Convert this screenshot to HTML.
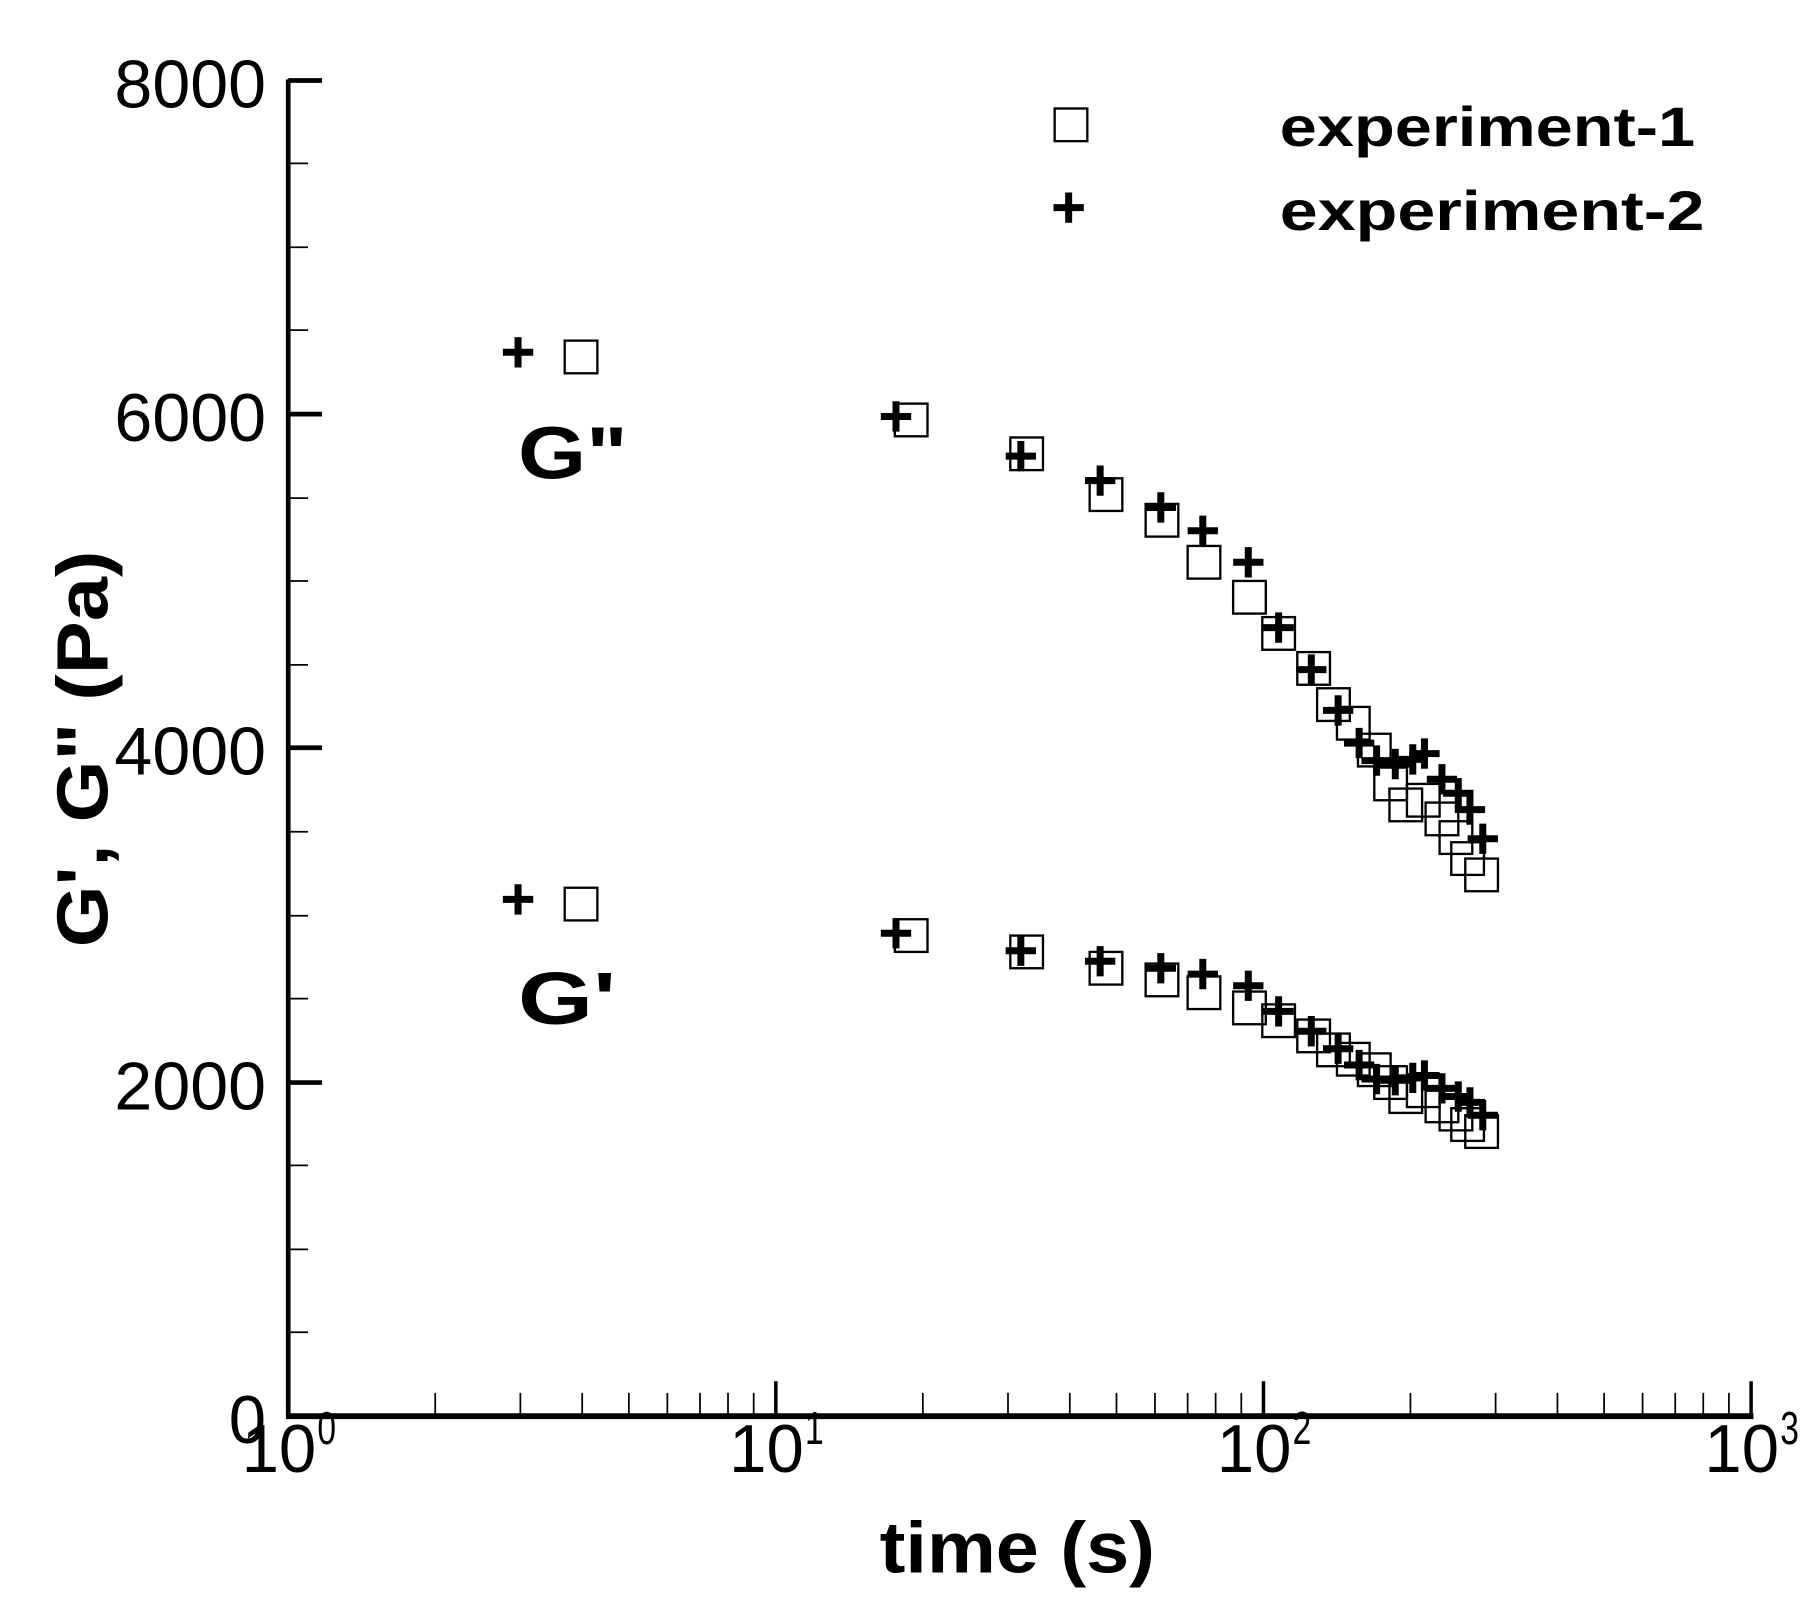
<!DOCTYPE html>
<html><head><style>html,body{margin:0;padding:0;background:#fff}svg{display:block}</style></head>
<body>
<svg width="1820" height="1604" viewBox="0 0 1560 1375" xmlns="http://www.w3.org/2000/svg" font-family="Liberation Sans, Arial, sans-serif">
<g stroke="#000" fill="none">
<line x1="247" y1="68" x2="247" y2="1214" stroke-width="4"/>
<line x1="245" y1="1214" x2="1503" y2="1214" stroke-width="5"/>
<g stroke-width="4">
<line x1="247" y1="69" x2="276" y2="69"/><line x1="247" y1="355" x2="276" y2="355"/>
<line x1="247" y1="641" x2="276" y2="641"/><line x1="247" y1="928" x2="276" y2="928"/>
</g>
<g stroke-width="1.5">
<line x1="247" y1="140" x2="264" y2="140"/><line x1="247" y1="212" x2="264" y2="212"/><line x1="247" y1="283" x2="264" y2="283"/>
<line x1="247" y1="427" x2="264" y2="427"/><line x1="247" y1="498" x2="264" y2="498"/><line x1="247" y1="570" x2="264" y2="570"/>
<line x1="247" y1="713" x2="264" y2="713"/><line x1="247" y1="785" x2="264" y2="785"/><line x1="247" y1="856" x2="264" y2="856"/>
<line x1="247" y1="999" x2="264" y2="999"/><line x1="247" y1="1071" x2="264" y2="1071"/><line x1="247" y1="1142" x2="264" y2="1142"/>
</g>
<g stroke-width="3">
<line x1="665" y1="1214" x2="665" y2="1184"/><line x1="1083" y1="1214" x2="1083" y2="1184"/><line x1="1501" y1="1214" x2="1501" y2="1184"/>
</g>
<g stroke-width="1.5" id="minor">
<line x1="373" y1="1214" x2="373" y2="1194"/><line x1="446" y1="1214" x2="446" y2="1194"/><line x1="499" y1="1214" x2="499" y2="1194"/><line x1="539" y1="1214" x2="539" y2="1194"/><line x1="572" y1="1214" x2="572" y2="1194"/><line x1="600" y1="1214" x2="600" y2="1194"/><line x1="624" y1="1214" x2="624" y2="1194"/><line x1="646" y1="1214" x2="646" y2="1194"/>
</g>
<use href="#minor" x="418"/><use href="#minor" x="836"/>
</g>
<g font-size="58" fill="#000">
<text x="228" y="92" text-anchor="end" textLength="130" lengthAdjust="spacingAndGlyphs">8000</text>
<text x="228" y="378" text-anchor="end" textLength="130" lengthAdjust="spacingAndGlyphs">6000</text>
<text x="228" y="664" text-anchor="end" textLength="130" lengthAdjust="spacingAndGlyphs">4000</text>
<text x="228" y="951" text-anchor="end" textLength="130" lengthAdjust="spacingAndGlyphs">2000</text>
<text x="228" y="1237" text-anchor="end" textLength="32" lengthAdjust="spacingAndGlyphs">0</text>
<g font-size="58">
<text x="207" y="1262" textLength="64" lengthAdjust="spacingAndGlyphs">10</text><text x="272" y="1238" font-size="40" textLength="16" lengthAdjust="spacingAndGlyphs">0</text>
<text x="625" y="1262" textLength="64" lengthAdjust="spacingAndGlyphs">10</text><text x="690" y="1238" font-size="40" textLength="16" lengthAdjust="spacingAndGlyphs">1</text>
<text x="1043" y="1262" textLength="64" lengthAdjust="spacingAndGlyphs">10</text><text x="1108" y="1238" font-size="40" textLength="16" lengthAdjust="spacingAndGlyphs">2</text>
<text x="1461" y="1262" textLength="64" lengthAdjust="spacingAndGlyphs">10</text><text x="1526" y="1238" font-size="40" textLength="16" lengthAdjust="spacingAndGlyphs">3</text>
</g>
<text x="872" y="1348" text-anchor="middle" font-weight="bold" font-size="62" textLength="236" lengthAdjust="spacingAndGlyphs">time (s)</text>
<text transform="translate(92,642) rotate(-90)" text-anchor="middle" font-weight="bold" font-size="62" textLength="340" lengthAdjust="spacingAndGlyphs">G', G" (Pa)</text>
<text x="444" y="410" font-weight="bold" font-size="64" textLength="94" lengthAdjust="spacingAndGlyphs">G"</text>
<text x="444" y="878" font-weight="bold" font-size="64" textLength="84" lengthAdjust="spacingAndGlyphs">G'</text>
<text x="1097" y="125" font-weight="bold" font-size="48" textLength="356" lengthAdjust="spacingAndGlyphs">experiment-1</text>
<text x="1097" y="197" font-weight="bold" font-size="48" textLength="364" lengthAdjust="spacingAndGlyphs">experiment-2</text>
</g>
<defs>
<rect id="sq" x="-14" y="-14" width="28" height="28" fill="none" stroke="#000" stroke-width="2"/>
<path id="pl" d="M-13 0H13M0 -13V13" stroke="#000" stroke-width="6" fill="none"/>
</defs>
<g>
<use href="#sq" x="918" y="107"/><use href="#pl" x="916" y="178"/>
<use href="#sq" x="498" y="306"/><use href="#sq" x="781" y="360"/><use href="#sq" x="880" y="389"/><use href="#sq" x="948" y="424"/><use href="#sq" x="996" y="446"/><use href="#sq" x="1032" y="482"/><use href="#sq" x="1071" y="512"/><use href="#sq" x="1096" y="543"/><use href="#sq" x="1126" y="573"/><use href="#sq" x="1143" y="604"/><use href="#sq" x="1160" y="620"/><use href="#sq" x="1178" y="643"/><use href="#sq" x="1192" y="672"/><use href="#sq" x="1205" y="690"/><use href="#sq" x="1220" y="686"/><use href="#sq" x="1236" y="702"/><use href="#sq" x="1248" y="718"/><use href="#sq" x="1258" y="736"/><use href="#sq" x="1270" y="750"/>
<use href="#sq" x="498" y="775"/><use href="#sq" x="781" y="802"/><use href="#sq" x="880" y="816"/><use href="#sq" x="948" y="830"/><use href="#sq" x="996" y="840"/><use href="#sq" x="1032" y="851"/><use href="#sq" x="1071" y="864"/><use href="#sq" x="1096" y="875"/><use href="#sq" x="1126" y="888"/><use href="#sq" x="1143" y="900"/><use href="#sq" x="1160" y="908"/><use href="#sq" x="1178" y="917"/><use href="#sq" x="1192" y="928"/><use href="#sq" x="1205" y="940"/><use href="#sq" x="1220" y="935"/><use href="#sq" x="1236" y="948"/><use href="#sq" x="1248" y="955"/><use href="#sq" x="1258" y="964"/><use href="#sq" x="1270" y="970"/>
<use href="#pl" x="444" y="302"/><use href="#pl" x="768" y="357"/><use href="#pl" x="875" y="391"/><use href="#pl" x="943" y="412"/><use href="#pl" x="995" y="435"/><use href="#pl" x="1031" y="455"/><use href="#pl" x="1070" y="482"/><use href="#pl" x="1096" y="538"/><use href="#pl" x="1124" y="574"/><use href="#pl" x="1147" y="609"/><use href="#pl" x="1165" y="637"/><use href="#pl" x="1180" y="652"/><use href="#pl" x="1196" y="655"/><use href="#pl" x="1211" y="651"/><use href="#pl" x="1221" y="646"/><use href="#pl" x="1236" y="668"/><use href="#pl" x="1250" y="680"/><use href="#pl" x="1260" y="694"/><use href="#pl" x="1271" y="719"/>
<use href="#pl" x="444" y="771"/><use href="#pl" x="768" y="800"/><use href="#pl" x="875" y="815"/><use href="#pl" x="943" y="824"/><use href="#pl" x="995" y="830"/><use href="#pl" x="1031" y="835"/><use href="#pl" x="1070" y="845"/><use href="#pl" x="1096" y="867"/><use href="#pl" x="1124" y="884"/><use href="#pl" x="1147" y="899"/><use href="#pl" x="1165" y="913"/><use href="#pl" x="1180" y="925"/><use href="#pl" x="1196" y="926"/><use href="#pl" x="1211" y="924"/><use href="#pl" x="1221" y="922"/><use href="#pl" x="1236" y="933"/><use href="#pl" x="1250" y="940"/><use href="#pl" x="1260" y="945"/><use href="#pl" x="1271" y="956"/>
</g>
</svg>
</body></html>
